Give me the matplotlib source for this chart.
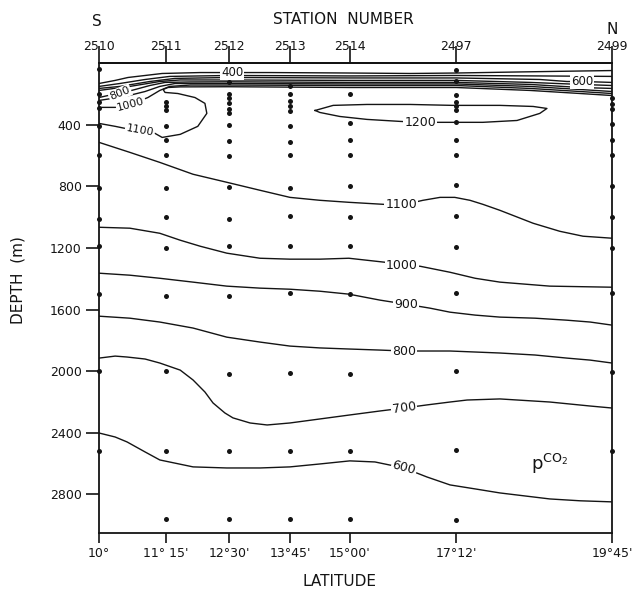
import matplotlib
matplotlib.use("Agg")
import matplotlib.pyplot as plt

# stations along the section (distance along track in km)
station_ids = ['2510', '2511', '2512', '2513', '2514', '2497', '2499']
station_km = [0, 141, 274, 402, 528, 752, 1080]
lat_labels = ['10°', "11° 15'", "12°30'", "13°45'", "15°00'", "17°12'", "19°45'"]
depth_ticks = [400, 800, 1200, 1600, 2000, 2400, 2800]

# sample depths (m) at each station
s2510 = [40, 200, 250, 290, 410, 600, 810, 1010, 1190, 1500, 2000, 2520]
s2511 = [250, 280, 305, 410, 500, 600, 810, 1000, 1200, 1510, 2000, 2520, 2960]
s2512 = [125, 200, 230, 260, 300, 325, 405, 505, 605, 805, 1010, 1190, 1510, 2020, 2520, 2960]
s2513 = [150, 200, 245, 280, 310, 410, 510, 600, 810, 990, 1185, 1495, 2010, 2515, 2960]
s2514 = [200, 390, 500, 600, 800, 1000, 1190, 1500, 2020, 2520, 2960]
s2497 = [45, 120, 210, 250, 280, 305, 380, 500, 600, 790, 990, 1195, 1490, 2000, 2510, 2965]
s2499 = [230, 265, 300, 395, 500, 600, 800, 1000, 1200, 1490, 2005, 2515]
samples = [s2510, s2511, s2512, s2513, s2514, s2497, s2499]

# pCO2 isolines, (km, depth m)
iso400 = [(0, 133), (34, 113), (61, 94), (97, 81), (133, 68), (213, 62), (280, 62), (360, 62),
          (528, 65), (655, 68), (752, 65), (886, 58), (1013, 52), (1080, 49)]
iso500 = [(0, 152), (44, 133), (97, 107), (149, 87), (274, 81), (528, 84), (752, 81), (928, 84), (1080, 87)]
iso600_top = [(0, 165), (44, 152), (107, 120), (160, 100), (274, 94), (528, 97), (752, 97), (928, 107),
              (985, 120), (1017, 120), (1080, 126)]
iso700_top = [(0, 178), (65, 152), (128, 120), (171, 110), (274, 110), (528, 113), (752, 113), (907, 126),
              (1013, 139), (1080, 146)]
iso800_top = [(0, 224), (19, 211), (44, 198), (76, 172), (107, 146), (139, 126), (192, 123), (274, 122),
              (528, 126), (752, 126), (907, 139), (1013, 159), (1080, 165)]
iso900_top = [(0, 243), (55, 217), (97, 185), (128, 152), (160, 133), (274, 133), (528, 136), (752, 136),
              (907, 152), (1013, 172), (1080, 185)]
iso1000_top = [(0, 288), (34, 288), (67, 269), (103, 224), (128, 178), (149, 152), (192, 143), (274, 143),
               (528, 146), (752, 146), (907, 165), (1013, 185), (1080, 198)]
iso1100_top = [(0, 392), (34, 411), (86, 444), (114, 450), (133, 483), (171, 463), (208, 411), (227, 327),
               (223, 262), (202, 224), (166, 198), (139, 191), (135, 172), (145, 159), (171, 155), (274, 154),
               (528, 159), (752, 159), (907, 178), (1013, 198), (1080, 211)]
iso1200 = [(455, 308), (493, 275), (564, 269), (655, 269), (745, 275), (844, 275), (914, 282), (943, 295),
           (928, 327), (880, 373), (808, 385), (712, 385), (676, 385), (634, 379), (564, 366), (507, 347),
           (465, 321), (455, 308)]
iso1100 = [(0, 515), (65, 580), (128, 645), (198, 722), (269, 774), (339, 826), (402, 872), (465, 891),
           (526, 904), (598, 917), (636, 923), (682, 891), (718, 872), (749, 872), (781, 891), (808, 917),
           (844, 956), (914, 1040), (970, 1092), (1019, 1124), (1080, 1137)]
iso1000 = [(0, 1066), (65, 1072), (128, 1105), (171, 1150), (213, 1189), (269, 1234), (339, 1267), (402, 1273),
           (465, 1273), (526, 1267), (602, 1293), (638, 1312), (676, 1319), (739, 1358), (792, 1397),
           (844, 1422), (949, 1448), (1080, 1455)]
iso900 = [(0, 1364), (65, 1377), (128, 1397), (198, 1422), (269, 1448), (339, 1461), (402, 1468), (465, 1481),
          (526, 1500), (592, 1539), (646, 1565), (697, 1591), (739, 1617), (792, 1636), (844, 1649),
          (918, 1656), (985, 1669), (1034, 1681), (1080, 1701)]
iso800 = [(0, 1643), (65, 1656), (128, 1681), (198, 1720), (269, 1779), (339, 1811), (402, 1837), (465, 1849),
          (526, 1856), (592, 1863), (642, 1869), (697, 1869), (739, 1869), (844, 1882), (918, 1895),
          (985, 1915), (1034, 1928), (1080, 1947)]
iso700 = [(0, 1915), (34, 1902), (59, 1908), (97, 1921), (128, 1947), (171, 1993), (198, 2057), (223, 2135),
          (240, 2206), (265, 2271), (282, 2303), (318, 2336), (354, 2349), (402, 2336), (465, 2310),
          (528, 2284), (592, 2258), (642, 2239), (690, 2219), (739, 2200), (775, 2187), (844, 2180),
          (949, 2200), (1034, 2226), (1080, 2239)]
iso600 = [(0, 2401), (34, 2427), (59, 2459), (97, 2524), (128, 2576), (198, 2621), (269, 2628), (339, 2628),
          (402, 2621), (465, 2602), (528, 2582), (581, 2589), (642, 2628), (690, 2686), (739, 2738),
          (792, 2764), (844, 2790), (949, 2829), (1013, 2841), (1080, 2848)]

isolines = [iso400, iso500, iso600_top, iso700_top, iso800_top, iso900_top, iso1000_top, iso1100_top,
            iso1200, iso1100, iso1000, iso900, iso800, iso700, iso600]

# isoline labels: text, km, depth, rotation, size
contour_labels = [
    ('400', 280, 62, 0, 8.5), ('600', 1017, 120, 0, 8.5),
    ('800', 44, 198, 22, 8), ('1000', 67, 269, 15, 8), ('1100', 86, 440, -10, 8),
    ('1200', 676, 385, 0, 9),
    ('1100', 636, 920, 0, 9), ('1000', 638, 1312, 0, 9), ('900', 646, 1565, 0, 9),
    ('800', 642, 1869, 0, 9), ('700', 642, 2239, 8, 9), ('600', 642, 2628, -15, 9),
]

ink = '#141414'
plt.rcParams['font.family'] = ['DejaVu Sans']

fig = plt.figure(figsize=(6.37, 5.90), dpi=100)
ax = fig.add_axes([99 / 637, 1 - 533 / 590, 513 / 637, 470 / 590])

for line in isolines:
    xs, ys = zip(*line)
    ax.plot(xs, ys, color=ink, lw=1.0, solid_joinstyle='round', zorder=2)

for km, depths in zip(station_km, samples):
    ax.plot([km] * len(depths), depths, 'o', color=ink, ms=3.6, mec='none', zorder=4, clip_on=False)

for text, km, d, rot, size in contour_labels:
    ax.text(km, d, text, ha='center', va='center', rotation=rot, fontsize=size, color=ink, zorder=3,
            bbox=dict(fc='white', ec='none', pad=0.8))

ax.text(949, 2600, r'p$^{\mathrm{CO}_2}$', fontsize=13, color=ink, ha='center', va='center')

ax.set_xlim(0, 1080)
ax.set_ylim(3050, 0)
for s in ax.spines.values():
    s.set_linewidth(1.3)
    s.set_color(ink)

ax.set_xticks(station_km, labels=lat_labels)
ax.tick_params(axis='x', direction='out', length=7, width=1.2, pad=3, labelsize=9, colors=ink)
ax.set_yticks(depth_ticks)
ax.tick_params(axis='y', direction='out', length=9.5, width=1.2, pad=3, labelsize=9, colors=ink)

top = ax.secondary_xaxis('top')
top.set_xticks(station_km, labels=station_ids)
top.tick_params(direction='out', length=12, width=1.2, pad=-5, labelsize=9, colors=ink)
top.spines['top'].set_linewidth(1.3)

fig.text(343 / 637, 1 - 20 / 590, 'STATION  NUMBER', ha='center', va='center', fontsize=11, color=ink)
fig.text(97 / 637, 1 - 22 / 590, 'S', ha='center', va='center', fontsize=11, color=ink)
fig.text(612 / 637, 1 - 29 / 590, 'N', ha='center', va='center', fontsize=11, color=ink)
fig.text(339 / 637, 1 - 581 / 590, 'LATITUDE', ha='center', va='center', fontsize=11, color=ink)
fig.text(18 / 637, 1 - 280 / 590, 'DEPTH  (m)', ha='center', va='center', rotation=90, fontsize=11, color=ink)

fig.savefig('out.png', dpi=100)
